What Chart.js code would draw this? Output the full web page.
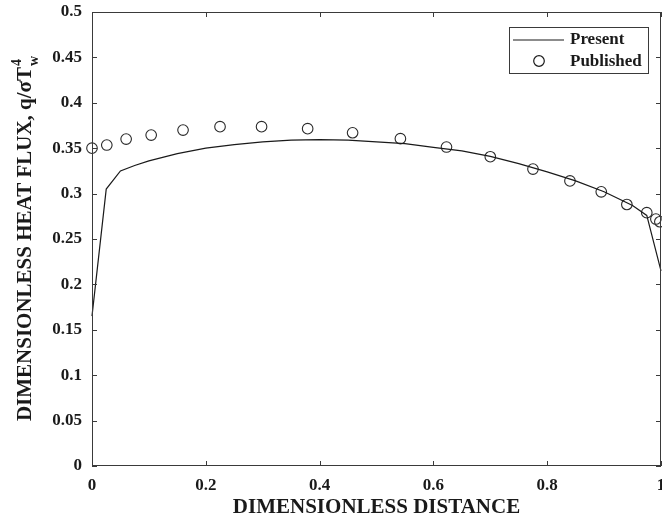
<!DOCTYPE html>
<html>
<head>
<meta charset="utf-8">
<script src="https://cdn.jsdelivr.net/npm/chart.js@4"></script>
<style>
  html, body { margin: 0; padding: 0; background: #fff; }
  #wrap { width: 662px; height: 519px; }
</style>
</head>
<body>
<div id="wrap"><canvas id="chart"></canvas></div>
<script>
// Present (solid line)
const presentX = [0, 0.025, 0.05, 0.075, 0.1, 0.15, 0.2, 0.25, 0.3, 0.35, 0.4, 0.45, 0.5, 0.55, 0.6, 0.65, 0.7, 0.75, 0.8, 0.85, 0.9, 0.95, 0.975, 1];
const presentY = [0.165, 0.305, 0.325, 0.331, 0.336, 0.344, 0.350, 0.354, 0.357, 0.359, 0.3595, 0.359, 0.357, 0.355, 0.351, 0.347, 0.341, 0.333, 0.324, 0.314, 0.302, 0.287, 0.276, 0.215];

// Published (circles)
const publishedX = [0, 0.026, 0.06, 0.104, 0.16, 0.225, 0.298, 0.379, 0.458, 0.542, 0.623, 0.7, 0.775, 0.84, 0.895, 0.94, 0.975, 0.991, 0.998];
const publishedY = [0.35, 0.3535, 0.36, 0.3645, 0.37, 0.3737, 0.3737, 0.3715, 0.367, 0.3605, 0.3513, 0.3406, 0.327, 0.314, 0.302, 0.288, 0.279, 0.272, 0.269];

const xTicks = [0, 0.2, 0.4, 0.6, 0.8, 1];
const yTicks = [0, 0.05, 0.1, 0.15, 0.2, 0.25, 0.3, 0.35, 0.4, 0.45, 0.5];

const FONT = "'Liberation Serif', 'Times New Roman', serif";
const AXIS_COLOR = "#3a3a3a";
const INK = "#1a1a1a";

// Box, inward ticks, y title with sub/superscript, legend
const framePlugin = {
  id: "frame",
  afterDraw(chart) {
    const { ctx, chartArea: a, scales } = chart;
    ctx.save();
    ctx.strokeStyle = AXIS_COLOR;
    ctx.lineWidth = 1;
    ctx.strokeRect(a.left + 0.5, a.top + 0.5, a.right - a.left - 1, a.bottom - a.top - 1);

    const t = 5;
    ctx.beginPath();
    xTicks.forEach((v) => {
      const px = Math.round(scales.x.getPixelForValue(v)) + 0.5;
      ctx.moveTo(px, a.bottom); ctx.lineTo(px, a.bottom - t);
      ctx.moveTo(px, a.top); ctx.lineTo(px, a.top + t);
    });
    yTicks.forEach((v) => {
      const py = Math.round(scales.y.getPixelForValue(v)) + 0.5;
      ctx.moveTo(a.left, py); ctx.lineTo(a.left + t, py);
      ctx.moveTo(a.right, py); ctx.lineTo(a.right - t, py);
    });
    ctx.stroke();

    // y axis title
    ctx.fillStyle = INK;
    ctx.translate(26, (a.top + a.bottom) / 2);
    ctx.rotate(-Math.PI / 2);
    const main = "DIMENSIONLESS HEAT FLUX, q/\u03c3T";
    ctx.font = "bold 21px " + FONT;
    const wMain = ctx.measureText(main).width;
    ctx.font = "bold 14px " + FONT;
    const wExtra = Math.max(ctx.measureText("4").width, ctx.measureText("w").width);
    const x0 = -(wMain + wExtra) / 2;
    ctx.textBaseline = "middle";
    ctx.textAlign = "left";
    ctx.font = "bold 21px " + FONT;
    ctx.fillText(main, x0, 0);
    ctx.font = "bold 14px " + FONT;
    ctx.fillText("4", x0 + wMain + 1, -9);
    ctx.fillText("w", x0 + wMain + 1, 8);
    ctx.restore();

    // legend
    ctx.save();
    const bx = a.right - 152, by = a.top + 15, bw = 139, bh = 46;
    ctx.fillStyle = "#fff";
    ctx.fillRect(bx, by, bw, bh);
    ctx.strokeStyle = AXIS_COLOR;
    ctx.lineWidth = 1;
    ctx.strokeRect(bx + 0.5, by + 0.5, bw, bh);
    ctx.strokeStyle = INK;
    ctx.lineWidth = 1.2;
    ctx.beginPath();
    ctx.moveTo(bx + 4, by + 13);
    ctx.lineTo(bx + 55, by + 13);
    ctx.stroke();
    ctx.beginPath();
    ctx.arc(bx + 30, by + 34, 5.3, 0, Math.PI * 2);
    ctx.stroke();
    ctx.fillStyle = INK;
    ctx.font = "bold 17px " + FONT;
    ctx.textBaseline = "middle";
    ctx.fillText("Present", bx + 61, by + 13);
    ctx.fillText("Published", bx + 61, by + 35);
    ctx.restore();
  },
};

new Chart(document.getElementById("chart"), {
  type: "scatter",
  data: {
    datasets: [
      {
        label: "Present",
        type: "line",
        data: presentX.map((x, i) => ({ x, y: presentY[i] })),
        borderColor: INK,
        borderWidth: 1.2,
        pointRadius: 0,
        tension: 0,
        fill: false,
        clip: false,
      },
      {
        label: "Published",
        data: publishedX.map((x, i) => ({ x, y: publishedY[i] })),
        showLine: false,
        pointStyle: "circle",
        pointRadius: 5.3,
        pointBorderWidth: 1.1,
        pointBorderColor: "#2a2a2a",
        pointBackgroundColor: "rgba(0,0,0,0)",
        clip: false,
      },
    ],
  },
  options: {
    responsive: true,
    maintainAspectRatio: false,
    animation: false,
    layout: { autoPadding: false, padding: { top: 12, right: 1, left: 0, bottom: 0 } },
    plugins: {
      legend: { display: false },
      tooltip: { enabled: false },
    },
    scales: {
      x: {
        type: "linear",
        min: 0,
        max: 1,
        afterBuildTicks: (s) => { s.ticks = xTicks.map((v) => ({ value: v })); },
        afterFit: (s) => { s.height = 53; s.paddingLeft = 0; s.paddingRight = 0; },
        grid: { display: false, drawTicks: false },
        border: { display: false },
        ticks: {
          padding: 9,
          color: INK,
          font: { family: FONT, size: 17, weight: "bold" },
          maxRotation: 0,
          callback: (v) => String(+v.toFixed(2)),
        },
        title: {
          display: true,
          text: "DIMENSIONLESS DISTANCE",
          color: INK,
          font: { family: FONT, size: 21, weight: "bold", lineHeight: 1 },
          padding: { top: 0, bottom: 1 },
        },
      },
      y: {
        type: "linear",
        min: 0,
        max: 0.5,
        afterBuildTicks: (s) => { s.ticks = yTicks.map((v) => ({ value: v })); },
        afterFit: (s) => { s.width = 92; s.paddingTop = 0; s.paddingBottom = 0; },
        grid: { display: false, drawTicks: false },
        border: { display: false },
        ticks: {
          padding: 10,
          color: INK,
          font: { family: FONT, size: 17, weight: "bold" },
          callback: (v) => String(+v.toFixed(2)),
        },
      },
    },
  },
  plugins: [framePlugin],
});
</script>
</body>
</html>
